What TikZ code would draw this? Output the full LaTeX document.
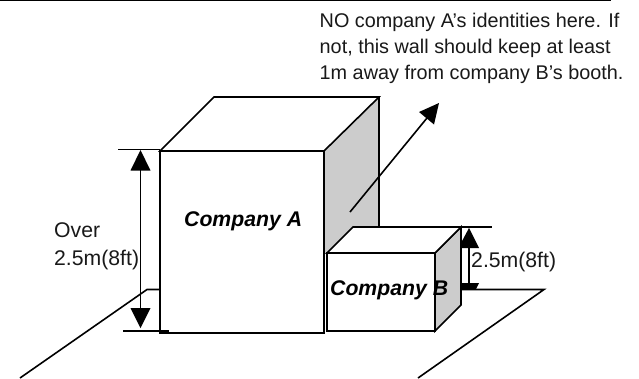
\documentclass[tikz,border=0pt]{standalone}
\usepackage{fontspec}
\setmainfont{Liberation Sans}
\tikzset{
  edge/.style={draw=black,line width=1.6bp,line join=miter},
  sidewall/.style={edge,fill=black!20},
  face/.style={edge,fill=white},
  headfill/.style={fill=black,draw=none},
  lbl/.style={inner sep=0pt,anchor=base west,font=\fontsize{19.9}{26}\selectfont,text=black!90},
  dimlbl/.style={inner sep=0pt,anchor=base west,font=\fontsize{21.3}{26}\selectfont,text=black!90},
  namelbl/.style={inner sep=0pt,anchor=base west,font=\fontsize{21.3}{26}\selectfont\bfseries\itshape}
}
\begin{document}
\begin{tikzpicture}[x=1bp,y=-1bp]
\useasboundingbox (0,0) rectangle (639,378);
\fill[white] (0,0) rectangle (639,378);
% top rule
\draw[line width=1.6bp] (0,0.5) -- (611,0.5);
% floors
\draw[edge] (20,378) -- (147,289.5) -- (160,289.5);
\draw[edge] (461,289.5) -- (544,289.5) -- (418,378);
% company A
\fill[black!20] (324,151) -- (379,97) -- (379,227) -- (353,227) -- (327,253) -- (324,253) -- cycle;
\draw[edge] (379,97) -- (379,227);
\draw[face] (160,151) -- (214,97) -- (379,97) -- (324,151) -- cycle;
\draw[face] (160,151) rectangle (324,333);
% notice arrow
\coordinate (arrowstart) at (350,212);
\coordinate (arrowtip) at (439,103);
\draw[line width=1.6bp] (arrowstart) -- (427,118);
\fill[headfill] (arrowtip) -- (419,112) -- (434,124.5) -- cycle;
% company B
\draw[sidewall] (435,253) -- (461,227) -- (461,305) -- (435,331) -- cycle;
\draw[face] (327,253) -- (353,227) -- (461,227) -- (435,253) -- cycle;
\draw[face] (327,253) rectangle (435,331);
% dimension A
\draw[line width=1.6bp] (118,149.5) -- (160,149.5);
\draw[line width=1.6bp] (123,331) -- (169,331);
\draw[line width=1.6bp] (140.5,165) -- (140.5,312);
\fill[headfill] (140.5,150) -- (150.5,170.5) -- (130.5,170.5) -- cycle;
\fill[headfill] (140.5,328) -- (150.5,308) -- (130.5,308) -- cycle;
% dimension B
\draw[line width=1.6bp] (461,227) -- (492,227);
\draw[line width=1.6bp] (469,240) -- (469,285);
\fill[headfill] (469,228) -- (479,248) -- (461,248) -- (461,243) -- cycle;
\fill[headfill] (461,283) -- (479,283) -- (476,289) -- (461,289) -- cycle;
% texts
\node[lbl] (noteA) at (319.5,27) {NO company A’s identities here. If};
\node[lbl] (noteB) at (319.5,53) {not, this wall should keep at least};
\node[lbl] (noteC) at (319.5,79) {1m away from company B’s booth.};
\node[dimlbl] (overA) at (54,237) {Over};
\node[dimlbl] (overB) at (54,265) {2.5m(8ft)};
\node[dimlbl] (dimB) at (471,267) {2.5m(8ft)};
\node[namelbl] (compA) at (184,226) {Company A};
\node[namelbl] (compB) at (330,295) {Company B};
\end{tikzpicture}
\end{document}
